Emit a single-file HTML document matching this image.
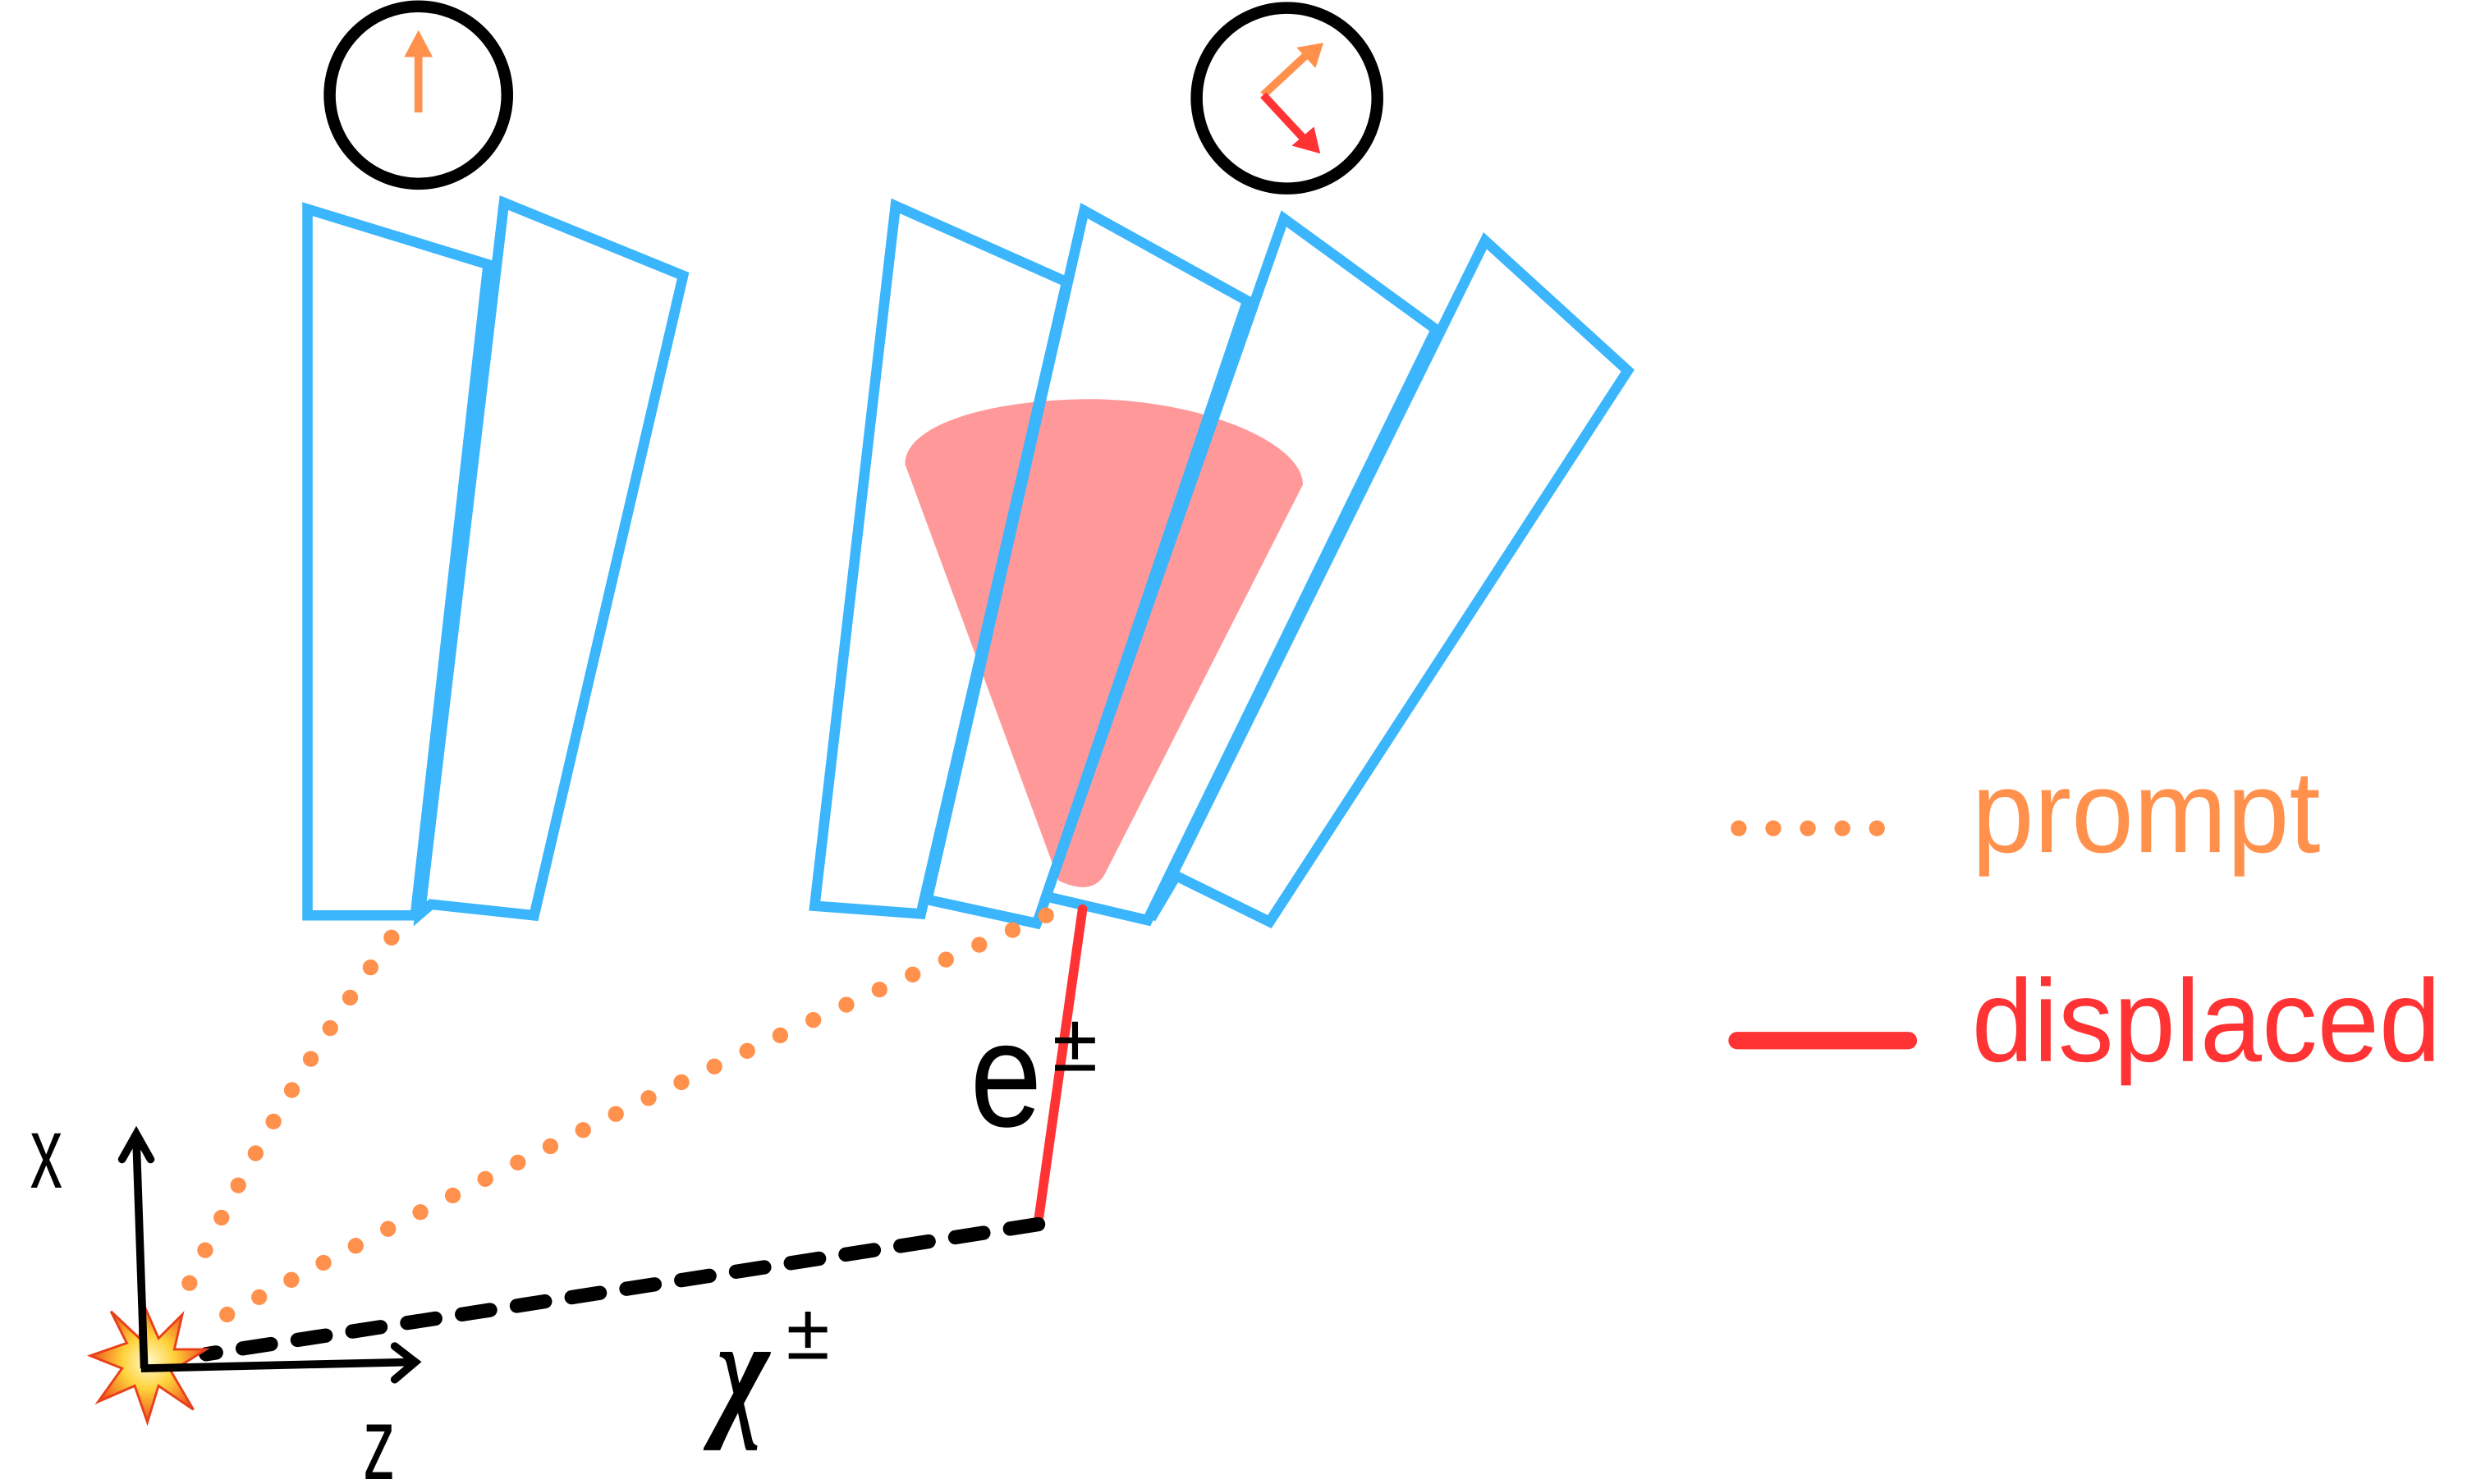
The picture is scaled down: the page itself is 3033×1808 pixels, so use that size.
<!DOCTYPE html>
<html><head><meta charset="utf-8"><style>
html,body{margin:0;padding:0;background:#fff;}
svg{display:block;}
</style></head><body>
<svg width="3033" height="1808" viewBox="0 0 1571 937" preserveAspectRatio="none" xmlns="http://www.w3.org/2000/svg">
<defs>
<radialGradient id="boom" cx="50%" cy="50%" r="50%">
<stop offset="0" stop-color="#fffbd0"/><stop offset="0.45" stop-color="#ffd23a"/><stop offset="1" stop-color="#f0501e"/>
</radialGradient>
</defs>
<!-- circles -->
<circle cx="264" cy="60" r="56" fill="none" stroke="#000" stroke-width="7.5"/>
<line x1="264" y1="71" x2="264" y2="32" stroke="#ff914d" stroke-width="5"/>
<polygon points="255,36 264,19 273,36" fill="#ff914d"/>
<circle cx="812" cy="62" r="57" fill="none" stroke="#000" stroke-width="7.5"/>
<line x1="797" y1="60" x2="825" y2="34" stroke="#ff914d" stroke-width="5"/>
<polygon points="818,30 835,27 830,43" fill="#ff914d"/>
<line x1="797" y1="60" x2="823" y2="88" stroke="#ff3333" stroke-width="5"/>
<polygon points="815,92 833,97 829,80" fill="#ff3333"/>
<!-- cone -->
<path d="M571,293 C571,268 625,252 690,252 C760,253 822,280 822,306 L697,552 Q689,566 668,556 Z" fill="rgba(255,80,80,0.58)"/>
<!-- blue modules -->
<g fill="none" stroke="#3bb5fb" stroke-width="6.5" stroke-linejoin="miter">
<polygon points="194,132 308,167 262,578 194,578"/>
<polygon points="318,128 431,174 337,578 272,571 265,577"/>
<polygon points="565,130 673,178 581,577 514,572"/>
<polygon points="684,133 787,190 656,578 654,583 585,568"/>
<polygon points="810,138 906,208 724,581 660,566"/>
<polygon points="937,152 1027,234 801,582 742,553 726,580"/>
</g>
<!-- prompt dotted -->
<g fill="none" stroke="#ff914d" stroke-width="10" stroke-linecap="round" stroke-dasharray="0 23">
<path d="M247,592 Q170,700 115,820"/>
<path d="M660,578 Q380,700 125,840"/>
</g>
<!-- displaced -->
<line x1="683" y1="574" x2="655" y2="772" stroke="#ff3333" stroke-width="6" stroke-linecap="round"/>
<path d="M655,773 Q420,810 130,855" fill="none" stroke="#000" stroke-width="9" stroke-linecap="round" stroke-dasharray="18 17"/>
<!-- explosion -->
<polygon points="90,822 100,845 115,830 110,852 130,852 108,866 122,890 100,875 93,898 85,875 62,885 77,864 57,856 80,848 70,828 88,845" fill="url(#boom)" stroke="#e8401a" stroke-width="1.5"/>
<!-- axes -->
<line x1="91" y1="864" x2="86" y2="720" stroke="#000" stroke-width="5"/>
<polyline points="77,732 86,716 95,732" fill="none" stroke="#000" stroke-width="5" stroke-linecap="round"/>
<line x1="89" y1="864" x2="260" y2="860" stroke="#000" stroke-width="5"/>
<polyline points="249,850 262,860 249,871" fill="none" stroke="#000" stroke-width="5" stroke-linecap="round"/>
<!-- labels -->
<g font-family="Liberation Sans, sans-serif">
<text transform="translate(19,750) scale(0.85,1.35)" font-size="48" fill="#000">x</text>
<text transform="translate(229,934) scale(0.85,1.35)" font-size="48" fill="#000">z</text>
<text transform="translate(612,711) scale(0.95,1.1)" font-size="86" fill="#000">e</text>
<text x="664" y="676" font-size="52" fill="#000">±</text>
<text transform="translate(452,896) scale(0.85,1.1)" font-size="84" font-weight="bold" font-style="italic" font-family="Liberation Serif, serif" fill="#000">χ</text>
<text x="496" y="858" font-size="50" fill="#000">±</text>
<line x1="1097" y1="523" x2="1206" y2="523" stroke="#ff914d" stroke-width="10" stroke-linecap="round" stroke-dasharray="0 21.8"/>
<text x="1244" y="538" font-size="74" fill="#ff914d" textLength="220" lengthAdjust="spacingAndGlyphs">prompt</text>
<line x1="1096" y1="657" x2="1204" y2="657" stroke="#ff3333" stroke-width="11" stroke-linecap="round"/>
<text x="1244" y="670" font-size="74" fill="#ff3333" textLength="296" lengthAdjust="spacingAndGlyphs">displaced</text>
</g>
</svg>
</body></html>
